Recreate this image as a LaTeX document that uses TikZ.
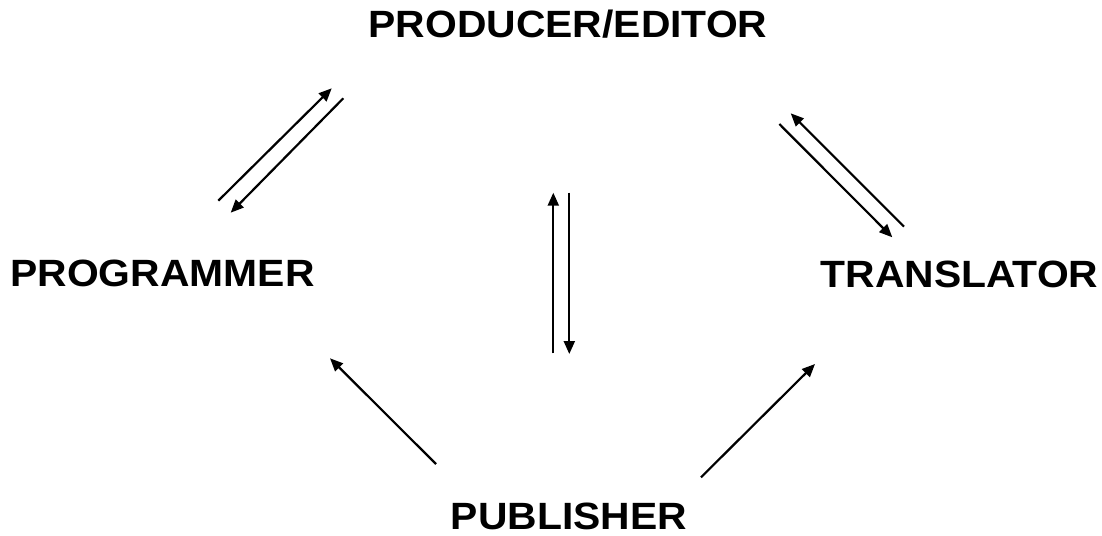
\documentclass[tikz,border=0pt]{standalone}
\usepackage{fontspec}
\setmainfont{Liberation Sans}
\usetikzlibrary{arrows.meta}
\begin{document}
\begin{tikzpicture}[x=1pt,y=-1pt,
  role/.style={anchor=base,inner sep=0pt,text depth=0pt,font=\fontsize{38}{42}\selectfont\bfseries,xscale=1.075},
  link/.style={line width=2.2pt,-{Triangle[length=13pt,width=11pt]}}]
\useasboundingbox (0,0) rectangle (1102,535);
\node[role] (prod) at (568,37.8) {PRODUCER/EDITOR};
\node[role] (prog) at (162.5,286.7) {PROGRAMMER};
\node[role] (tran) at (959.5,287.3) {TRANSLATOR};
\node[role] (pub) at (569,529.5) {PUBLISHER};
% endpoints
\coordinate (a1) at (218.3,200.7); \coordinate (a2) at (331.7,88.3);
\coordinate (b1) at (343.3,98.3); \coordinate (b2) at (230.7,212.7);
\coordinate (c1) at (553.3,353.3); \coordinate (c2) at (553.3,192.7);
\coordinate (d1) at (569.3,192.7); \coordinate (d2) at (569.3,354);
\coordinate (e1) at (904,226.7); \coordinate (e2) at (790.7,113.3);
\coordinate (f1) at (779.3,124); \coordinate (f2) at (892.3,237.3);
\coordinate (g1) at (436,464); \coordinate (g2) at (330,358.3);
\coordinate (h1) at (701,477.3); \coordinate (h2) at (815,364);
\draw[link] (a1) -- (a2);
\draw[link] (b1) -- (b2);
\draw[link] (c1) -- (c2);
\draw[link] (d1) -- (d2);
\draw[link] (e1) -- (e2);
\draw[link] (f1) -- (f2);
\draw[link] (g1) -- (g2);
\draw[link] (h1) -- (h2);
\end{tikzpicture}
\end{document}
